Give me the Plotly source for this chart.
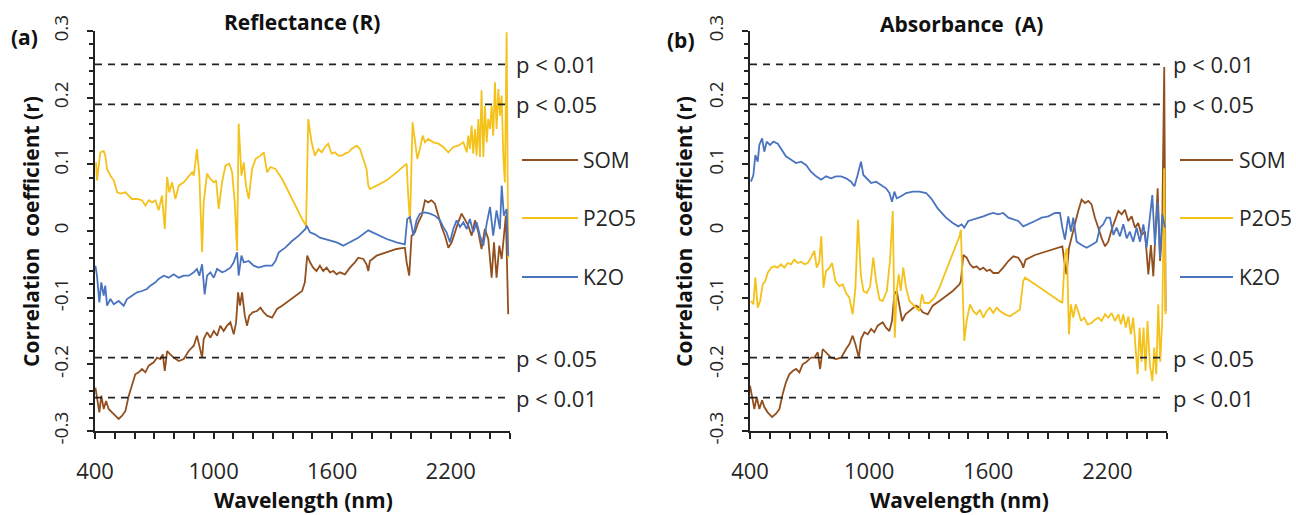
import plotly.graph_objects as go

# ---------------- data (wavelength nm, correlation r) ----------------
X_TICKS = [400, 1000, 1600, 2200]
Y_TICKS = [-0.3, -0.2, -0.1, 0, 0.1, 0.2, 0.3]
Y_LABELS = ["-0.3", "-0.2", "-0.1", "0", "0.1", "0.2", "0.3"]
THRESHOLDS = [0.25, 0.19, -0.19, -0.25]
THRESHOLD_LABELS = ["p < 0.01", "p < 0.05", "p < 0.05", "p < 0.01"]
SERIES_NAMES = ["SOM", "P2O5", "K2O"]
PANEL_TITLES = ["Reflectance (R)", "Absorbance  (A)"]
PANEL_TAGS = ["(a)", "(b)"]

R_SOM = [(402,-0.235),(410,-0.252),(422,-0.272),(432,-0.247),(444,-0.267),(456,-0.255),(469,-0.267),
         (486,-0.272),(503,-0.277),(520,-0.282),(537,-0.277),(554,-0.270),(571,-0.247),(587,-0.230),
         (604,-0.215),(621,-0.212),(638,-0.207),(655,-0.212),(672,-0.202),(697,-0.197),(714,-0.190),
         (731,-0.192),(743,-0.185),(753,-0.210),(765,-0.180),(781,-0.185),(798,-0.190),(824,-0.195),
         (849,-0.192),(874,-0.180),(900,-0.172),(916,-0.157),(928,-0.172),(942,-0.190),(950,-0.162),
         (967,-0.152),(984,-0.160),(1001,-0.150),(1018,-0.157),(1034,-0.142),(1051,-0.150),(1068,-0.142),
         (1085,-0.137),(1102,-0.155),(1114,-0.137),(1124,-0.092),(1134,-0.112),(1144,-0.092),(1158,-0.127),
         (1169,-0.142),(1181,-0.127),(1198,-0.122),(1220,-0.120),(1237,-0.115),(1254,-0.122),(1271,-0.127),
         (1296,-0.130),(1321,-0.117),(1347,-0.112),(1380,-0.105),(1414,-0.097),(1448,-0.090),(1462,-0.077),
         (1474,-0.037),(1488,-0.047),(1504,-0.055),(1521,-0.060),(1538,-0.052),(1555,-0.060),(1572,-0.055),
         (1589,-0.062),(1606,-0.060),(1623,-0.065),(1639,-0.062),(1665,-0.065),(1690,-0.055),(1715,-0.047),
         (1732,-0.040),(1758,-0.042),(1774,-0.050),(1783,-0.060),(1791,-0.045),(1825,-0.037),(1876,-0.032),
         (1926,-0.027),(1968,-0.025),(1977,-0.047),(1990,-0.067),(2002,-0.007),(2019,-0.002),(2036,0.013),
         (2053,0.023),(2070,0.046),(2086,0.043),(2103,0.046),(2120,0.041),(2137,0.023),(2154,0.006),
         (2171,-0.007),(2188,-0.025),(2205,-0.017),(2221,-0.002),(2238,0.013),(2255,0.026),(2272,0.018),
         (2289,0.008),(2306,-0.007),(2323,0.016),(2340,-0.002),(2356,-0.027),(2373,0.003),(2390,-0.012),
         (2407,-0.070),(2419,-0.017),(2432,-0.070),(2446,-0.022),(2458,-0.042),(2469,-0.012),(2479,0.023),
         (2491,-0.125)]

R_P2O5 = [(405,0.103),(410,0.076),(427,0.118),(444,0.120),(452,0.113),(461,0.093),(478,0.083),(495,0.076),
          (512,0.058),(528,0.056),(554,0.058),(571,0.053),(587,0.048),(613,0.048),(638,0.046),(655,0.038),
          (672,0.046),(689,0.043),(706,0.046),(722,0.031),(739,0.053),(753,0.003),(765,0.081),(776,0.058),
          (790,0.073),(807,0.048),(824,0.068),(849,0.073),(874,0.083),(891,0.088),(900,0.083),(916,0.123),
          (928,0.083),(942,-0.032),(950,0.043),(967,0.086),(984,0.078),(1001,0.073),(1013,0.076),(1026,0.033),
          (1043,0.073),(1060,0.098),(1080,0.101),(1094,0.088),(1107,0.043),(1119,-0.030),(1127,0.161),
          (1141,0.083),(1153,0.103),(1164,0.068),(1178,0.048),(1195,0.093),(1212,0.108),(1237,0.113),
          (1254,0.118),(1271,0.088),(1288,0.096),(1313,0.093),(1347,0.078),(1380,0.058),(1414,0.038),
          (1448,0.018),(1468,0.008),(1479,0.168),(1496,0.133),(1513,0.113),(1530,0.123),(1547,0.118),
          (1564,0.126),(1580,0.131),(1597,0.116),(1614,0.118),(1631,0.113),(1648,0.113),(1665,0.116),
          (1682,0.118),(1698,0.123),(1724,0.128),(1741,0.123),(1758,0.108),(1774,0.093),(1783,0.068),
          (1791,0.063),(1825,0.068),(1876,0.076),(1926,0.088),(1977,0.101),(1985,0.053),(1994,0.012),
          (2007,0.163),(2019,0.138),(2031,0.108),(2044,0.123),(2058,0.143),(2070,0.133),(2086,0.138),
          (2112,0.133),(2137,0.131),(2162,0.126),(2188,0.118),(2213,0.126),(2238,0.128),(2264,0.133),
          (2281,0.118),(2289,0.143),(2297,0.123),(2306,0.158),(2314,0.116),(2323,0.153),(2331,0.113),
          (2340,0.168),(2348,0.111),(2356,0.211),(2365,0.111),(2373,0.188),(2382,0.133),(2390,0.168),
          (2399,0.153),(2407,0.188),(2415,0.143),(2424,0.223),(2432,0.153),(2441,0.213),(2449,0.173),
          (2458,0.203),(2466,0.113),(2474,0.073),(2483,0.298),(2491,-0.040)]

R_K2O = [(402,-0.052),(410,-0.067),(422,-0.107),(432,-0.077),(444,-0.097),(452,-0.082),(461,-0.112),
         (478,-0.102),(495,-0.110),(520,-0.105),(545,-0.112),(562,-0.102),(587,-0.097),(613,-0.092),
         (638,-0.090),(663,-0.087),(680,-0.082),(706,-0.077),(722,-0.072),(748,-0.067),(773,-0.070),
         (798,-0.065),(824,-0.070),(849,-0.067),(874,-0.067),(900,-0.062),(916,-0.057),(928,-0.067),
         (942,-0.050),(955,-0.095),(967,-0.067),(984,-0.062),(1001,-0.070),(1018,-0.057),(1043,-0.062),
         (1060,-0.060),(1085,-0.055),(1102,-0.047),(1119,-0.032),(1127,-0.067),(1141,-0.037),(1153,-0.047),
         (1178,-0.045),(1203,-0.052),(1228,-0.055),(1262,-0.052),(1296,-0.052),(1313,-0.045),(1330,-0.032),
         (1363,-0.025),(1397,-0.015),(1431,-0.007),(1465,0.003),(1471,0.008),(1488,-0.002),(1513,-0.005),
         (1538,-0.010),(1564,-0.012),(1589,-0.015),(1623,-0.017),(1656,-0.022),(1690,-0.017),(1732,-0.010),
         (1783,0.001),(1825,-0.005),(1876,-0.012),(1926,-0.017),(1968,-0.020),(1980,0.018),(1994,0.021),
         (2011,-0.007),(2027,0.016),(2044,0.026),(2070,0.028),(2095,0.026),(2120,0.023),(2146,0.016),
         (2162,0.006),(2179,-0.002),(2196,-0.017),(2213,0.003),(2230,0.016),(2247,0.006),(2264,0.013),
         (2281,0.003),(2297,0.018),(2314,-0.002),(2331,0.013),(2348,-0.007),(2365,-0.022),(2382,0.011),
         (2399,0.036),(2415,-0.007),(2432,0.031),(2449,0.003),(2458,0.068),(2469,0.023),(2483,0.033),
         (2491,-0.037)]

A_SOM = [(400,-0.232),(410,-0.249),(422,-0.267),(434,-0.249),(447,-0.267),(461,-0.254),(472,-0.264),
         (489,-0.272),(511,-0.279),(531,-0.274),(548,-0.267),(565,-0.244),(581,-0.227),(598,-0.215),
         (615,-0.210),(632,-0.207),(649,-0.212),(665,-0.200),(682,-0.197),(707,-0.190),(724,-0.190),
         (741,-0.182),(753,-0.207),(766,-0.177),(783,-0.182),(808,-0.190),(833,-0.192),(859,-0.190),
         (884,-0.177),(900,-0.170),(917,-0.157),(931,-0.170),(948,-0.190),(959,-0.162),(976,-0.152),
         (993,-0.155),(1010,-0.147),(1026,-0.152),(1043,-0.142),(1068,-0.137),(1085,-0.145),(1102,-0.150),
         (1115,-0.135),(1127,-0.095),(1139,-0.090),(1152,-0.115),(1166,-0.135),(1183,-0.125),(1203,-0.120),
         (1220,-0.115),(1236,-0.112),(1253,-0.115),(1270,-0.122),(1295,-0.125),(1320,-0.112),(1354,-0.105),
         (1387,-0.098),(1421,-0.090),(1455,-0.080),(1462,-0.075),(1474,-0.036),(1491,-0.040),(1508,-0.050),
         (1524,-0.055),(1541,-0.053),(1558,-0.058),(1575,-0.055),(1592,-0.060),(1608,-0.058),(1625,-0.063),
         (1650,-0.063),(1675,-0.055),(1701,-0.045),(1726,-0.038),(1751,-0.040),(1768,-0.048),(1776,-0.055),
         (1788,-0.043),(1835,-0.036),(1885,-0.031),(1936,-0.026),(1973,-0.023),(1983,-0.045),(1994,-0.065),
         (2006,-0.026),(2020,-0.011),(2036,0.010),(2053,0.030),(2070,0.047),(2087,0.042),(2104,0.045),
         (2120,0.040),(2137,0.020),(2154,0.005),(2171,-0.011),(2188,-0.023),(2204,-0.016),(2221,0.002),
         (2238,0.015),(2255,0.030),(2272,0.025),(2288,0.032),(2305,0.015),(2322,0.022),(2339,0.005),
         (2355,0.012),(2372,-0.006),(2389,-0.001),(2406,-0.065),(2419,-0.021),(2431,-0.068),(2443,0.005),
         (2453,0.064),(2465,-0.045),(2476,0.005),(2486,0.246),(2493,-0.120)]

A_P2O5 = [(405,-0.105),(417,-0.110),(427,-0.070),(439,-0.115),(451,-0.105),(464,-0.080),(477,-0.075),
          (489,-0.063),(506,-0.055),(523,-0.053),(540,-0.055),(556,-0.050),(573,-0.055),(590,-0.048),
          (607,-0.050),(623,-0.043),(640,-0.048),(657,-0.046),(674,-0.050),(691,-0.048),(707,-0.040),
          (724,-0.030),(736,-0.055),(749,-0.046),(759,-0.008),(770,-0.085),(783,-0.060),(800,-0.055),
          (813,-0.048),(830,-0.075),(850,-0.083),(867,-0.080),(884,-0.093),(900,-0.100),(917,-0.125),
          (931,-0.085),(944,0.017),(958,-0.065),(971,-0.090),(988,-0.093),(1005,-0.083),(1021,-0.040),
          (1035,-0.075),(1052,-0.103),(1068,-0.105),(1089,-0.090),(1105,-0.045),(1119,0.030),(1129,-0.160),
          (1139,-0.090),(1149,-0.065),(1159,-0.090),(1172,-0.055),(1186,-0.085),(1203,-0.105),(1220,-0.110),
          (1236,-0.115),(1253,-0.120),(1266,-0.095),(1278,-0.108),(1303,-0.108),(1329,-0.100),(1354,-0.085),
          (1387,-0.060),(1421,-0.035),(1455,-0.008),(1462,0.002),(1479,-0.165),(1491,-0.135),(1508,-0.110),
          (1524,-0.120),(1541,-0.125),(1558,-0.118),(1575,-0.130),(1592,-0.120),(1608,-0.115),(1625,-0.123),
          (1642,-0.115),(1659,-0.120),(1684,-0.125),(1709,-0.128),(1734,-0.123),(1759,-0.118),(1776,-0.075),
          (1785,-0.070),(1835,-0.080),(1885,-0.090),(1936,-0.100),(1973,-0.108),(1986,-0.036),(1996,-0.026),
          (2006,-0.155),(2016,-0.110),(2028,-0.130),(2040,-0.110),(2053,-0.120),(2067,-0.135),(2083,-0.130),
          (2100,-0.140),(2120,-0.138),(2137,-0.133),(2154,-0.130),(2171,-0.135),(2188,-0.125),(2204,-0.130),
          (2221,-0.123),(2238,-0.135),(2255,-0.125),(2268,-0.140),(2280,-0.125),(2292,-0.145),(2305,-0.128),
          (2318,-0.155),(2330,-0.130),(2342,-0.175),(2352,-0.215),(2362,-0.145),(2372,-0.196),(2382,-0.145),
          (2392,-0.210),(2402,-0.135),(2414,-0.201),(2426,-0.225),(2436,-0.175),(2446,-0.215),(2456,-0.110),
          (2466,-0.196),(2476,-0.135),(2486,0.094),(2493,-0.125)]

A_K2O = [(405,0.074),(417,0.084),(427,0.114),(439,0.104),(447,0.129),(461,0.139),(472,0.119),(484,0.134),
         (501,0.129),(518,0.134),(540,0.131),(556,0.124),(581,0.112),(607,0.107),(632,0.102),(657,0.104),
         (682,0.099),(707,0.089),(733,0.082),(758,0.077),(783,0.082),(808,0.079),(833,0.082),(859,0.082),
         (884,0.079),(909,0.074),(926,0.067),(942,0.084),(959,0.104),(971,0.084),(988,0.079),(1010,0.072),
         (1035,0.074),(1060,0.069),(1085,0.064),(1102,0.057),(1115,0.044),(1127,0.059),(1139,0.049),
         (1161,0.052),(1186,0.057),(1220,0.059),(1253,0.059),(1287,0.057),(1312,0.049),(1345,0.034),
         (1387,0.020),(1421,0.012),(1449,0.007),(1466,0.010),(1479,0.005),(1499,0.015),(1524,0.017),
         (1550,0.020),(1575,0.022),(1600,0.025),(1625,0.027),(1650,0.025),(1675,0.027),(1701,0.020),
         (1726,0.017),(1751,0.015),(1776,0.007),(1801,0.010),(1835,0.015),(1869,0.020),(1902,0.022),
         (1936,0.027),(1961,0.027),(1973,0.005),(1986,-0.013),(2003,0.022),(2016,-0.001),(2028,0.020),
         (2045,-0.016),(2070,-0.021),(2095,-0.025),(2120,-0.021),(2146,-0.016),(2162,0.005),(2179,0.010),
         (2196,0.020),(2213,0.020),(2230,-0.006),(2246,0.005),(2263,-0.008),(2280,0.010),(2297,-0.011),
         (2313,-0.001),(2330,-0.016),(2347,0.005),(2364,-0.016),(2381,0.010),(2397,-0.025),(2414,0.025),
         (2426,0.054),(2439,-0.021),(2453,0.044),(2465,-0.040),(2476,0.025),(2490,0.005)]

PANELS = [[R_SOM, R_P2O5, R_K2O], [A_SOM, A_P2O5, A_K2O]]
COLORS = ["#93501F", "#F4C21B", "#4A74C0"]

# ---------------- figure ----------------
W, H = 1296, 515
FONT = "'Open Sans', sans-serif"
TXT = "#262626"


def px(x):
    return x / W


def py(y):
    return 1 - y / H


fig = go.Figure()

panel_px = [(95, 510), (750, 1167)]
y_dom = [py(431), py(31)]

for i, series in enumerate(PANELS):
    xa = "x" if i == 0 else "x2"
    ya = "y" if i == 0 else "y2"
    for s, name, col in zip(series, SERIES_NAMES, COLORS):
        fig.add_trace(go.Scatter(
            x=[p[0] for p in s], y=[p[1] for p in s], mode="lines", name=name,
            line=dict(color=col, width=1.8), xaxis=xa, yaxis=ya, showlegend=False,
            hoverinfo="skip"))

axis_common = dict(showgrid=False, zeroline=False, showline=True, linecolor="#222",
                   linewidth=1.5, ticks="outside", ticklen=6, tickwidth=1.5, tickcolor="#222",
                   automargin=False)

layout = dict(width=W, height=H, margin=dict(l=0, r=0, t=0, b=0, autoexpand=False),
              paper_bgcolor="white", plot_bgcolor="white", showlegend=False,
              template="none")

for i in range(2):
    sx = "" if i == 0 else "2"
    x0, x1 = panel_px[i]
    layout["xaxis" + sx] = dict(
        axis_common, domain=[px(x0), px(x1)], range=[400, 2500], anchor="y" + sx,
        tickmode="array", tickvals=X_TICKS, ticklabelstandoff=14,
        tickfont=dict(family=FONT, size=22, color=TXT),
        minor=dict(dtick=100, tick0=400, ticks="outside", ticklen=6, tickwidth=1.5, tickcolor="#222"))
    layout["yaxis" + sx] = dict(
        axis_common, domain=y_dom, range=[-0.3, 0.3], anchor="x" + sx,
        tickmode="array", tickvals=Y_TICKS, ticktext=Y_LABELS, tickangle=-90, ticklabelstandoff=12,
        tickfont=dict(family=FONT, size=19, color=TXT),
        minor=dict(dtick=0.02, tick0=-0.3, ticks="outside", ticklen=4, tickwidth=1.5, tickcolor="#222"))

fig.update_layout(**layout)

shapes = []
annotations = []
for i in range(2):
    xr = "x" if i == 0 else "x2"
    yr = "y" if i == 0 else "y2"
    for thr, lab in zip(THRESHOLDS, THRESHOLD_LABELS):
        shapes.append(dict(type="line", xref=xr, yref=yr, x0=400, x1=2478, y0=thr, y1=thr,
                           line=dict(color="#222", width=1.8, dash="7px,6px")))
        annotations.append(dict(xref=xr, yref=yr, x=2500, y=thr, xshift=4, xanchor="left",
                                yanchor="middle", text=lab, showarrow=False,
                                font=dict(family=FONT, size=22, color=TXT)))

# legends (per panel)
leg_px = [(522, 578, 581), (1180, 1233, 1237)]
leg_y = [160, 218, 277]
for i in range(2):
    a, b, t = leg_px[i]
    for name, col, yy in zip(SERIES_NAMES, COLORS, leg_y):
        shapes.append(dict(type="line", xref="paper", yref="paper", x0=px(a), x1=px(b),
                           y0=py(yy), y1=py(yy), line=dict(color=col, width=2)))
        annotations.append(dict(xref="paper", yref="paper", x=px(t), y=py(yy), xanchor="left",
                                yanchor="middle", text=name, showarrow=False,
                                font=dict(family=FONT, size=21, color=TXT)))

# titles, tags, axis titles
title_pos = [(302, 22), (961, 24)]
tag_pos = [(24, 37), (681, 40)]
ytitle_x = [31, 684]
xtitle_x = [303, 959]
for i in range(2):
    annotations.append(dict(xref="paper", yref="paper", x=px(title_pos[i][0]), y=py(title_pos[i][1]),
                            text="<b>" + PANEL_TITLES[i] + "</b>", showarrow=False,
                            xanchor="center", yanchor="middle",
                            font=dict(family=FONT, size=21, color="#111")))
    annotations.append(dict(xref="paper", yref="paper", x=px(tag_pos[i][0]), y=py(tag_pos[i][1]),
                            text="<b>" + PANEL_TAGS[i] + "</b>", showarrow=False,
                            xanchor="center", yanchor="middle",
                            font=dict(family=FONT, size=21, color="#111")))
    annotations.append(dict(xref="paper", yref="paper", x=px(ytitle_x[i]), y=py(232),
                            text="<b>Correlation  coefficient (r)</b>", showarrow=False,
                            textangle=-90, xanchor="center", yanchor="middle",
                            font=dict(family=FONT, size=21, color="#111")))
    annotations.append(dict(xref="paper", yref="paper", x=px(xtitle_x[i]), y=py(500),
                            text="<b>Wavelength (nm)</b>", showarrow=False,
                            xanchor="center", yanchor="middle",
                            font=dict(family=FONT, size=21, color="#111")))

fig.update_layout(shapes=shapes, annotations=annotations)
fig.write_html("out.html", config={"displayModeBar": False},
               post_script="document.body.style.margin='0';document.body.style.overflow='hidden';")
